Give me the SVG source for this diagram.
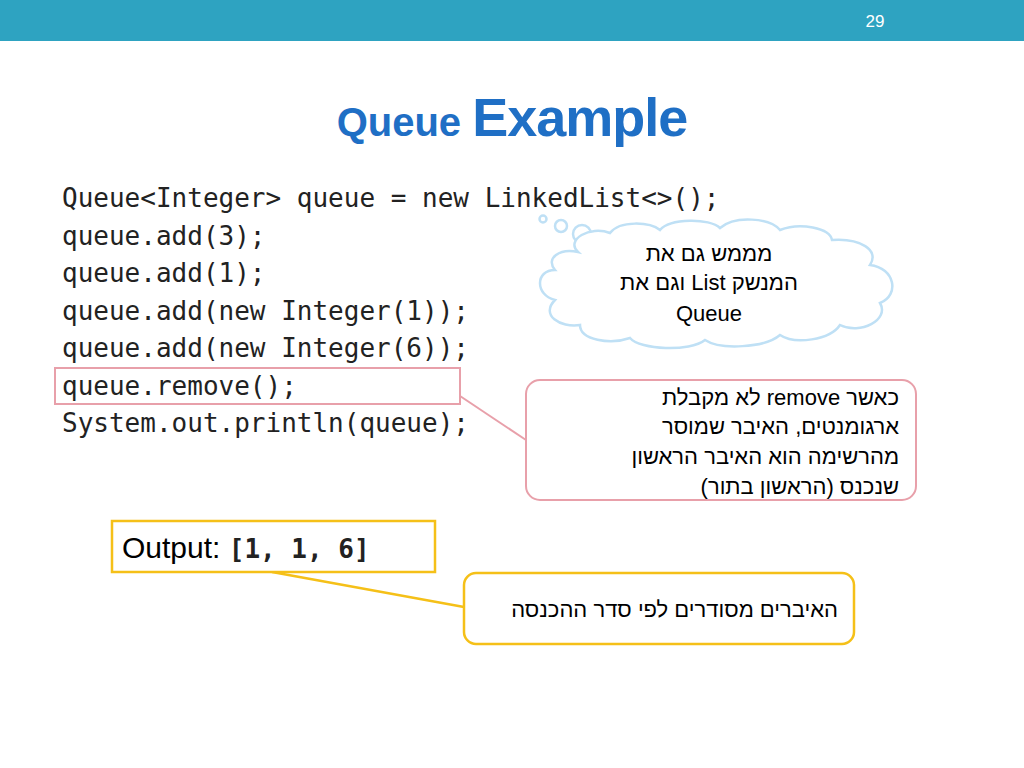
<svg xmlns="http://www.w3.org/2000/svg" width="1024" height="768" viewBox="0 0 1024 768">
<style>
.code{font-family:"DejaVu Sans Mono",monospace;font-size:26px;fill:#222}
.he{font-family:"Liberation Sans",Arial,sans-serif;font-size:22px;fill:#000}
</style>
<rect width="1024" height="768" fill="#fff"/>
<rect width="1024" height="41" fill="#2ea3c1"/>
<text x="875" y="27" font-family="Liberation Sans,sans-serif" font-size="17" fill="#fff" text-anchor="middle">29</text>
<text x="512" y="136" text-anchor="middle" font-family="Liberation Sans,sans-serif" font-weight="bold" fill="#1f6fc5"><tspan font-size="40" font-stretch="condensed" style="font-family:'Liberation Sans Narrow','Liberation Sans',sans-serif">Queue </tspan><tspan font-size="54" letter-spacing="-1">Example</tspan></text>
<g id="code">
<text class="code" x="62" y="207">Queue&lt;Integer&gt; queue = new LinkedList&lt;&gt;();</text>
<text class="code" x="62" y="245">queue.add(3);</text>
<text class="code" x="62" y="282">queue.add(1);</text>
<text class="code" x="62" y="320">queue.add(new Integer(1));</text>
<text class="code" x="62" y="357">queue.add(new Integer(6));</text>
<text class="code" x="62" y="395">queue.remove();</text>
<text class="code" x="62" y="432">System.out.println(queue);</text>
</g>
<g id="connectors" fill="none">
<line x1="460" y1="396" x2="526" y2="440" stroke="#e8a0aa" stroke-width="2"/>
<line x1="272" y1="572" x2="464" y2="607" stroke="#f5c018" stroke-width="2.5"/>
</g>
<g id="remove-box"><rect x="55" y="368" width="405" height="36" fill="none" stroke="#e8a0aa" stroke-width="2"/></g>
<g id="cloud" fill="#fff" stroke="#bfe0f5" stroke-width="2.5">
<circle cx="543" cy="219" r="3.5"/>
<circle cx="561" cy="226" r="6"/>
<circle cx="582" cy="234" r="9"/>
<path d="M578,252 C565,240 590,225 610,233 C620,220 650,222 660,230 C670,218 710,218 720,228 C735,215 770,218 780,230 C800,222 830,228 832,240 C860,238 880,250 870,265 C895,268 900,295 880,303 C890,320 860,335 840,325 C830,340 795,345 780,335 C765,348 720,350 705,340 C690,352 640,350 630,338 C610,345 580,340 580,325 C560,328 540,315 555,300 C535,295 535,270 555,270 C545,258 560,248 578,252 Z"/>
<text class="he" x="709" y="261" text-anchor="middle" direction="rtl" stroke="none">מממש גם את</text>
<text class="he" x="709" y="290" text-anchor="middle" direction="rtl" stroke="none">המנשק List וגם את</text>
<text class="he" x="709" y="321" text-anchor="middle" stroke="none">Queue</text>
</g>
<g id="note-remove">
<rect x="526" y="380" width="390" height="120" rx="14" fill="#fff" stroke="#e8a0aa" stroke-width="2"/>
<text class="he" x="899" y="405" direction="rtl" text-anchor="start">כאשר remove לא מקבלת</text>
<text class="he" x="899" y="434" direction="rtl" text-anchor="start">ארגומנטים, האיבר שמוסר</text>
<text class="he" x="899" y="464" direction="rtl" text-anchor="start">מהרשימה הוא האיבר הראשון</text>
<text class="he" x="899" y="494" direction="rtl" text-anchor="start">שנכנס (הראשון בתור)</text>
</g>
<g id="output">
<rect x="112" y="521" width="323" height="51" fill="#fff" stroke="#f5c018" stroke-width="2.5"/>
<text x="122" y="558" font-family="Liberation Sans,sans-serif" font-size="30" font-stretch="condensed">Output: <tspan class="code" font-weight="bold" font-size="26" fill="#000">[1, 1, 6]</tspan></text>
</g>
<g id="note-order">
<rect x="464" y="573" width="390" height="71" rx="12" fill="#fff" stroke="#f5c018" stroke-width="2.5"/>
<text class="he" x="838" y="617" direction="rtl" text-anchor="start">האיברים מסודרים לפי סדר ההכנסה</text>
</g>
</svg>
